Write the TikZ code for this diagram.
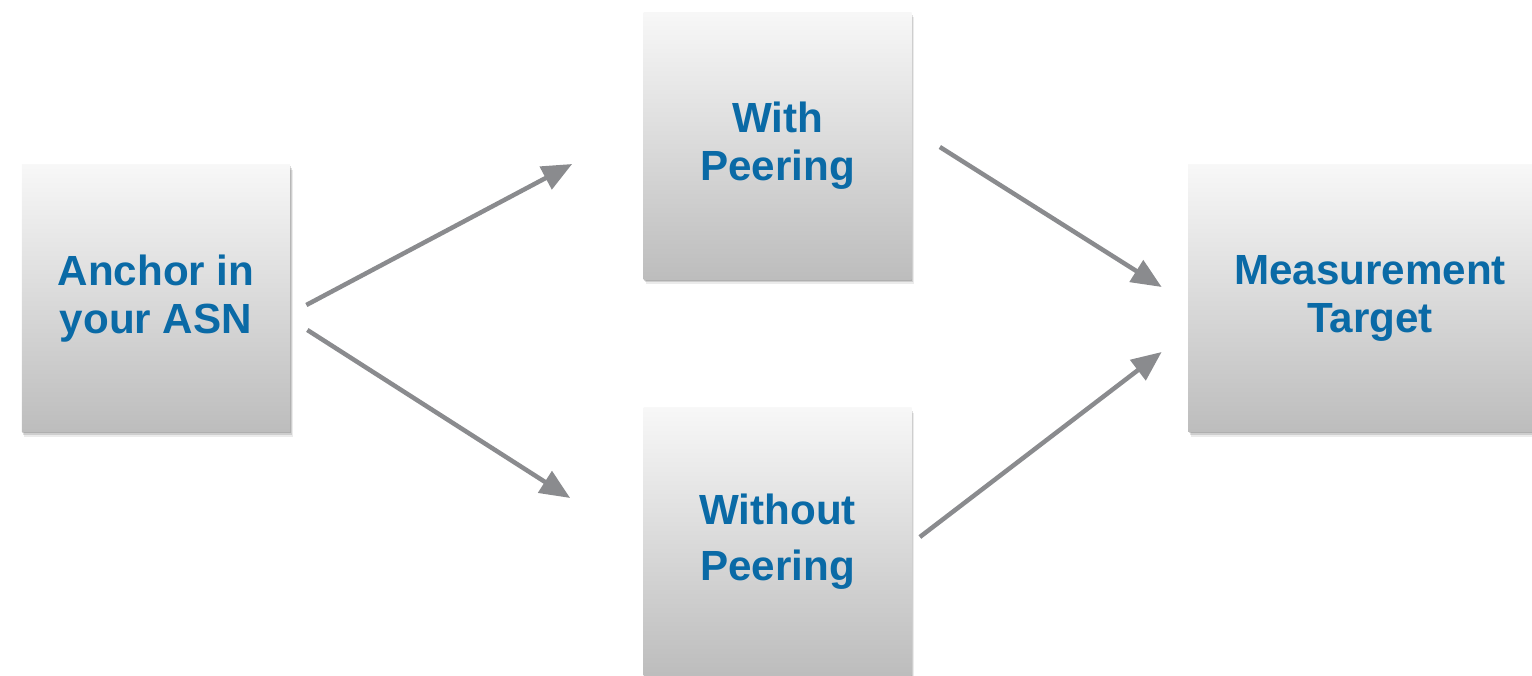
\documentclass[tikz,border=0pt]{standalone}
\usepackage{fontspec}
\setmainfont{Liberation Sans}
\usepackage{tikz}
\usetikzlibrary{arrows.meta,shadows}
\definecolor{boxtext}{RGB}{10,106,166}
\definecolor{flowgray}{RGB}{138,139,142}

\begin{document}
\begin{tikzpicture}[
  block/.style={minimum width=5.36cm, minimum height=5.34cm, inner sep=0pt,
    top color=white!97!black, bottom color=black!26, align=center,
    text=boxtext, font=\fontsize{24}{27.5}\selectfont\bfseries,
    drop shadow={shadow xshift=0.05cm, shadow yshift=-0.1cm, fill=black, opacity=0.08},
    drop shadow={shadow xshift=0.03cm, shadow yshift=-0.06cm, fill=black, opacity=0.12},
    drop shadow={shadow xshift=0.01cm, shadow yshift=-0.03cm, fill=black, opacity=0.15}},
  flow/.style={flowgray, line width=0.09cm, -{Triangle[length=0.6cm, width=0.5cm]}}
]
\useasboundingbox (0,0) rectangle (30.64,13.5);
\node [block] (anchor) at (3.12,7.53) {Anchor in\\your ASN};
\node [block] (with) at (15.55,10.58) {With\\Peering};
\node [block] (without) at (15.55,2.67) {Without\\[0.16cm]Peering};
\node [block, minimum width=7.28cm] (target) at (27.4,7.53) {Measurement\\Target};
\draw[flow] ([shift={(0.32,-0.13)}]anchor.east) -- ([shift={(-1.42,-0.36)}]with.west);
\draw[flow] ([shift={(0.34,-0.63)}]anchor.east) -- ([shift={(-1.46,0.87)}]without.west);
\draw[flow] ([shift={(0.56,-0.02)}]with.east) -- ([shift={(-0.52,0.23)}]target.west);
\draw[flow] ([shift={(0.16,0.09)}]without.east) -- ([shift={(-0.52,-1.07)}]target.west);
\end{tikzpicture}
\end{document}
